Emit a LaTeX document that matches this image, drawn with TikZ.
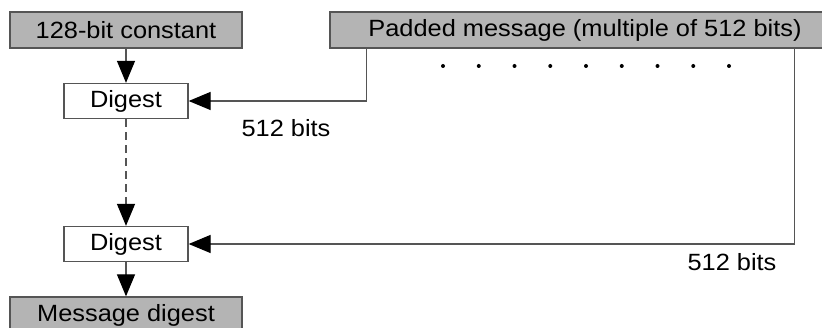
\documentclass[tikz,border=0pt]{standalone}
\usepackage{fontspec}
\setmainfont[FakeStretch=1.08]{Liberation Sans}
\usetikzlibrary{arrows.meta}
\definecolor{boxgray}{RGB}{180,180,180}
\definecolor{linegray}{RGB}{85,85,85}
\tikzset{
  inbox/.style={draw=linegray,fill=boxgray,line width=1.3pt,minimum height=36pt,inner sep=0pt},
  digbox/.style={draw=linegray,fill=white,line width=1.3pt,minimum width=124pt,minimum height=35pt,inner sep=0pt},
  flow/.style={draw=linegray,line width=1.3pt,-{Triangle[length=22pt,width=18pt,color=black]}},
  bitlabel/.style={inner sep=0pt}
}
\begin{document}
\begin{tikzpicture}[x=1pt,y=-1pt,font=\fontsize{23.5}{28}\selectfont]
  \useasboundingbox (0,0) rectangle (822,328);
  % inputs
  \node[inbox,minimum width=232pt] (const) at (126,30) {128-bit constant};
  \node[inbox,minimum width=510pt] (msg) at (585,30) {Padded message (multiple of 512 bits)};
  % digest steps
  \node[digbox] (dig1) at (126,101) {Digest};
  \node[digbox] (dig2) at (126,244) {Digest};
  \node[inbox,minimum width=232pt] (out) at (126,315) {Message digest};
  % blocks
  \coordinate (tap1) at ([xshift=37pt]msg.south west);
  \coordinate (tap2) at ([xshift=465pt]msg.south west);
  \foreach \i in {0,...,8}{\fill (443+35.75*\i,66) circle (2pt);}
  \draw[flow] (const) -- (dig1);
  \draw[flow] (tap1) |- (dig1);
  \draw[flow,dash pattern=on 8pt off 5pt] (dig1) -- (dig2);
  \draw[flow] (tap2) |- (dig2);
  \draw[flow] (dig2) -- (out);
  \node[bitlabel] (bits1) at (286,128) {512 bits};
  \node[bitlabel] (bits2) at (732,262) {512 bits};
\end{tikzpicture}
\end{document}
